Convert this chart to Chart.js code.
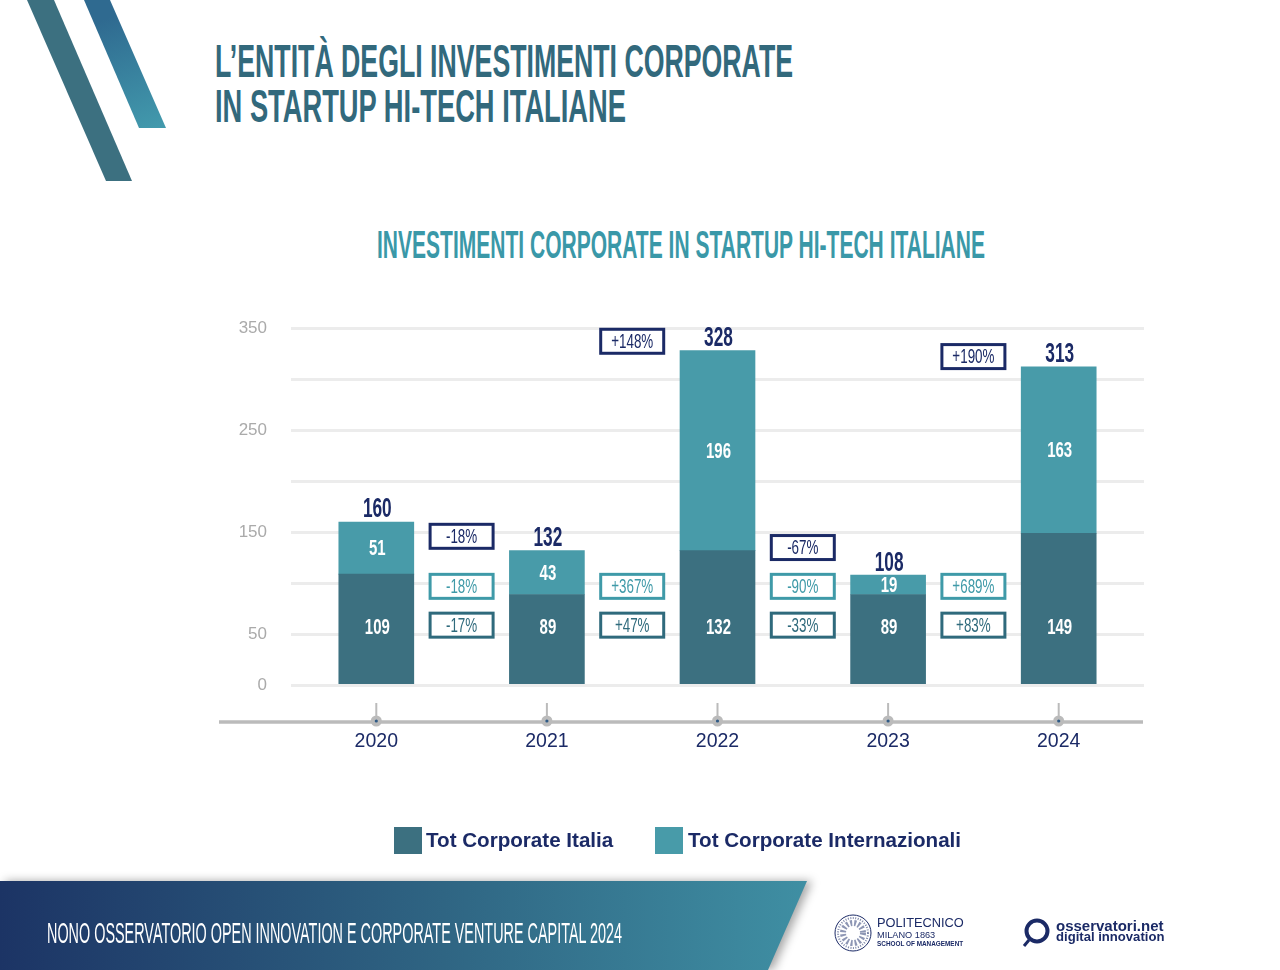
<!DOCTYPE html>
<html lang="it">
<head>
<meta charset="utf-8">
<title>Investimenti corporate in startup hi-tech italiane</title>
<script src="https://cdn.jsdelivr.net/npm/chart.js@4"></script>
<style>
  html, body { margin: 0; padding: 0; background: #fff; }
  #page { position: relative; width: 1280px; height: 970px; overflow: hidden; font-family: "Liberation Sans", sans-serif; }
  #page > * { position: absolute; }
  #chart { left: 0; top: 0; }
  .stripe1 { left: 0; top: 0; width: 170px; height: 185px; background: #3c7080; clip-path: polygon(27px 0, 54px 0, 132px 181px, 106px 181px); }
  .stripe2 { left: 0; top: 0; width: 170px; height: 130px; background: linear-gradient(160deg, #2f6a90 30%, #439cae 100%); clip-path: polygon(84px 0, 110px 0, 166px 128px, 139px 128px); }
  .fit { white-space: nowrap; transform-origin: left top; line-height: 1; }
  .headline { left: 215px; color: #32697c; font-weight: bold; font-size: 47px; }
  .subhead { left: 377px; top: 226px; color: #3a98a8; font-weight: bold; font-size: 38px; }
  .footwrap { left: 0; top: 881px; width: 830px; height: 89px; filter: drop-shadow(5px 0 5px rgba(0,0,0,.35)); }
  .foot { width: 807px; height: 89px; background: linear-gradient(90deg, #1c3465 0%, #2f6583 55%, #3f8fa3 100%); clip-path: polygon(0 0, 807px 0, 768px 89px, 0 89px); }
  .foottext { left: 47px; top: 919px; color: #fff; font-size: 29px; }
  .logo { color: #1b2a66; white-space: nowrap; line-height: 1; }
  .swatch { width: 28px; height: 27px; top: 827px; }
  .legtext { top: 828px; color: #1b2a66; font-size: 20.6px; font-weight: bold; line-height: 23px; white-space: nowrap; }
</style>
</head>
<body>
<div id="page">
  <div class="stripe1"></div>
  <div class="stripe2"></div>
  <div class="headline fit" style="top:37px" data-w="578">L’ENTITÀ DEGLI INVESTIMENTI CORPORATE</div>
  <div class="headline fit" style="top:82px" data-w="411">IN STARTUP HI-TECH ITALIANE</div>
  <div class="subhead fit" data-w="608">INVESTIMENTI CORPORATE IN STARTUP HI-TECH ITALIANE</div>
  <canvas id="chart" width="1280" height="970" style="width:1280px;height:970px"></canvas>
  <div class="footwrap"><div class="foot"></div></div>
  <div class="foottext fit" data-w="575">NONO OSSERVATORIO OPEN INNOVATION E CORPORATE VENTURE CAPITAL 2024</div>

  <svg style="left:834px;top:913px" width="38" height="40" viewBox="0 0 38 40">
    <circle cx="19" cy="20" r="18" fill="none" stroke="#1b2a66" stroke-width="1"/>
    <circle cx="19" cy="20" r="15" fill="none" stroke="#7c86a8" stroke-width="2" stroke-dasharray="1 1.5"/>
    <circle cx="19" cy="20" r="10" fill="none" stroke="#8d96b4" stroke-width="6" stroke-dasharray="2 2"/>
  </svg>
  <div class="logo" style="left:877px;top:917px;font-size:12.8px">POLITECNICO</div>
  <div class="logo" style="left:877px;top:931px;font-size:9.2px">MILANO 1863</div>
  <div class="logo" style="left:877px;top:941px;font-size:6.4px;font-weight:bold">SCHOOL OF MANAGEMENT</div>

  <svg style="left:1022px;top:917px" width="30" height="32" viewBox="0 0 30 32">
    <circle cx="15" cy="14" r="10.5" fill="none" stroke="#1b2a66" stroke-width="4"/>
    <line x1="7" y1="23" x2="2" y2="29" stroke="#1b2a66" stroke-width="3"/>
  </svg>
  <div class="logo" style="left:1056px;top:918px;font-size:15px;font-weight:bold">osservatori.net</div>
  <div class="logo" style="left:1056px;top:930px;font-size:13.1px;font-weight:bold">digital innovation</div>
</div>

<script>
const years = ['2020', '2021', '2022', '2023', '2024'];
const italia = [109, 89, 132, 89, 149];
const internazionali = [51, 43, 196, 19, 163];
const totals = [160, 132, 328, 108, 313];
const yTickLabels = [0, 50, 150, 250, 350];

// variazioni anno su anno, una per ogni intervallo
const changeTotal = ['-18%', '+148%', '-67%', '+190%'];
const changeIntl = ['-18%', '+367%', '-90%', '+689%'];
const changeItalia = ['-17%', '+47%', '-33%', '+83%'];

const NAVY = '#1b2a66';
const DARK = '#3c7080';
const TEAL = '#489ba9';
const SANS = '"Liberation Sans", sans-serif';

// squeeze the DOM headings to the measured width
document.querySelectorAll('.fit').forEach(el => {
    el.style.display = 'inline-block';
    const w = el.getBoundingClientRect().width;
    el.style.transform = `scaleX(${el.dataset.w / w})`;
});

// no condensed font is installed, so squeeze on the canvas too
function narrowText(ctx, text, x, y, font, color, squeeze) {
    ctx.save();
    ctx.translate(x, y);
    ctx.scale(squeeze, 1);
    ctx.font = `${font} ${SANS}`;
    ctx.fillStyle = color;
    ctx.textAlign = 'center';
    ctx.textBaseline = 'middle';
    ctx.fillText(text, 0, 0);
    ctx.restore();
}

function changeBox(ctx, text, cx, cy, color) {
    const w = 63, h = 24;
    ctx.fillStyle = '#fff';
    ctx.strokeStyle = color;
    ctx.lineWidth = 3;
    ctx.fillRect(cx - w / 2, cy - h / 2, w, h);
    ctx.strokeRect(cx - w / 2, cy - h / 2, w, h);
    narrowText(ctx, text, cx, cy + 1, '20px', color, 0.67);
}

// baseline over the bars, timeline below them
const axisDecor = {
    id: 'axisDecor',
    afterDatasetsDraw(chart) {
        const { ctx, scales: { x, y }, chartArea } = chart;
        ctx.save();
        ctx.strokeStyle = '#ececec';
        ctx.lineWidth = 3;
        ctx.beginPath();
        ctx.moveTo(chartArea.left, y.getPixelForValue(0));
        ctx.lineTo(chartArea.right, y.getPixelForValue(0));
        ctx.stroke();

        ctx.strokeStyle = '#bbbbbb';
        ctx.lineWidth = 3.5;
        ctx.beginPath();
        ctx.moveTo(219, 722);
        ctx.lineTo(1143, 722);
        ctx.stroke();

        years.forEach((yr, i) => {
            const px = x.getPixelForValue(i);
            ctx.lineWidth = 2;
            ctx.beginPath();
            ctx.moveTo(px, 703);
            ctx.lineTo(px, 720);
            ctx.stroke();
            ctx.fillStyle = '#bbbbbb';
            ctx.beginPath();
            ctx.arc(px, 721, 5.5, 0, Math.PI * 2);
            ctx.fill();
            ctx.fillStyle = '#2f5a85';
            ctx.beginPath();
            ctx.arc(px, 721, 1.6, 0, Math.PI * 2);
            ctx.fill();
        });
        ctx.restore();
    }
};

// value labels and the boxes with the yearly change
const ITALIA_LABEL_LEVEL = 56;
const ROW_INTL_LEVEL = 97;
const ROW_ITALIA_LEVEL = 59;
const topBoxLevels = [146, 337, 135, 322];

const annotations = {
    id: 'annotations',
    afterDraw(chart) {
        const { ctx, scales: { x, y } } = chart;
        const intlBars = chart.getDatasetMeta(1).data;
        years.forEach((yr, i) => {
            const px = x.getPixelForValue(i);
            narrowText(ctx, String(italia[i]), px + 1, y.getPixelForValue(ITALIA_LABEL_LEVEL), 'bold 22px', '#fff', 0.68);
            narrowText(ctx, String(internazionali[i]), px + 1, y.getPixelForValue(italia[i] + internazionali[i] / 2) + 1, 'bold 22px', '#fff', 0.68);
            narrowText(ctx, String(totals[i]), px + 1, intlBars[i].y - 12, 'bold 27px', NAVY, 0.64);
        });
        changeTotal.forEach((txt, i) => {
            const cx = (x.getPixelForValue(i) + x.getPixelForValue(i + 1)) / 2;
            changeBox(ctx, txt, cx, y.getPixelForValue(topBoxLevels[i]), NAVY);
            changeBox(ctx, changeIntl[i], cx, y.getPixelForValue(ROW_INTL_LEVEL), '#3f9aa8');
            changeBox(ctx, changeItalia[i], cx, y.getPixelForValue(ROW_ITALIA_LEVEL), '#2f6a7c');
        });
    }
};

const chart = new Chart(document.getElementById('chart'), {
    type: 'bar',
    data: {
        labels: years,
        datasets: [
            { label: 'Tot Corporate Italia', data: italia, backgroundColor: DARK, barThickness: 75 },
            { label: 'Tot Corporate Internazionali', data: internazionali, backgroundColor: TEAL, barThickness: 75 }
        ]
    },
    options: {
        responsive: false,
        animation: false,
        layout: { padding: { left: 231, right: 136, top: 328, bottom: 100 } },
        plugins: {
            title: { display: false },
            tooltip: { enabled: false },
            legend: { display: false }
        },
        scales: {
            x: {
                stacked: true,
                grid: { display: false },
                border: { display: false },
                ticks: {
                    padding: 37,
                    color: NAVY,
                    font: { family: SANS, size: 19.5 }
                },
                afterFit: s => { s.height = 184.6; }
            },
            y: {
                stacked: true,
                min: 0,
                max: 350,
                grid: { color: '#ececec', lineWidth: 3, drawTicks: false },
                border: { display: false },
                ticks: {
                    stepSize: 50,
                    padding: 24,
                    color: '#aaaaaa',
                    font: { family: SANS, size: 17 },
                    callback: v => yTickLabels.includes(v) ? v : ''
                },
                afterFit: s => { s.width = 60; }
            }
        }
    },
    plugins: [axisDecor, annotations]
});

// legend spaced as in the slide, from the chart's own datasets
const legendSpots = [[394, 426], [655, 688]];
const page = document.getElementById('page');
chart.data.datasets.forEach((ds, i) => {
    const swatch = document.createElement('div');
    swatch.className = 'swatch';
    swatch.style.left = legendSpots[i][0] + 'px';
    swatch.style.background = ds.backgroundColor;
    const text = document.createElement('div');
    text.className = 'legtext';
    text.style.left = legendSpots[i][1] + 'px';
    text.textContent = ds.label;
    page.append(swatch, text);
});
</script>
</body>
</html>
